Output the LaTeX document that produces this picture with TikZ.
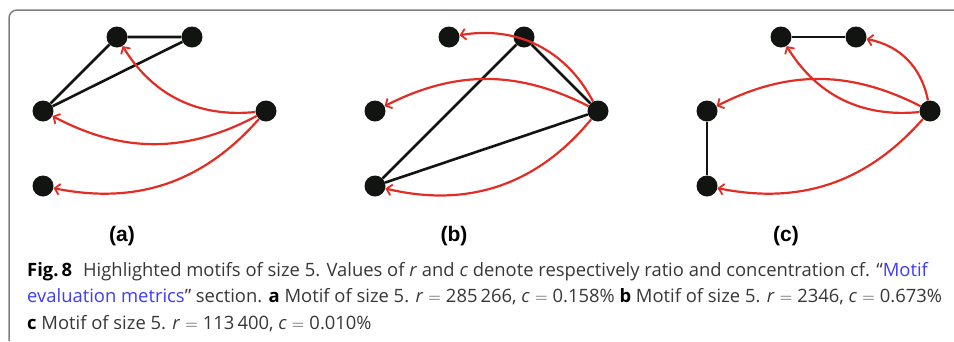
\documentclass[tikz,border=0pt]{standalone}
\usepackage{fontspec}
\setmainfont{Open Sans}
\newfontfamily\panelfont{Liberation Sans}
\usetikzlibrary{arrows.meta}
\definecolor{motifred}{RGB}{226,44,36}
\definecolor{vtxblack}{RGB}{18,20,18}
\definecolor{framegray}{RGB}{128,128,128}
\definecolor{captext}{RGB}{55,55,55}
\definecolor{linkblue}{RGB}{60,60,250}
\newcommand{\eqsign}{\;$=$\;}
\tikzset{
  vtx/.style={circle, fill=vtxblack, inner sep=0pt, minimum size=21pt},
  undir/.style={line width=2.6pt, vtxblack},
  motifarc/.style={line width=2.2pt, motifred,
    -{Straight Barb[length=5pt,width=11pt,line width=1.8pt]}},
  panellabel/.style={font=\panelfont\bfseries\fontsize{21}{21}\selectfont},
  capline/.style={anchor=base west, inner sep=0pt,
    font=\fontsize{18.4}{20}\selectfont, text=captext}
}
\begin{document}
\begin{tikzpicture}[x=1pt, y=1pt]
% Three 5-node motifs side by side, pixel-like units (y grows up, so
% rows sit at negative y). Every panel uses the same five vertex
% spots: tl, tr on top, ml, bl on the left, r on the right.
\useasboundingbox (0,0) rectangle (954,-341);
% Figure frame: only the top-left corner is visible
\draw[framegray, line width=1.5pt, rounded corners=8pt]
  (9,-341) |- (954,-10);
% Vertices for panels a, b, c
\foreach \p/\dx in {a/0, b/332, c/664} {
  \node[vtx] (\p tl) at (117+\dx, -37) {};
  \node[vtx] (\p tr) at (192+\dx, -37) {};
  \node[vtx] (\p ml) at (43+\dx, -111) {};
  \node[vtx] (\p r)  at (266+\dx, -111) {};
  \node[vtx] (\p bl) at (43+\dx, -186) {};
  \node[panellabel] (\p lab) at (122+\dx, -236) {(\p)};
}
% (a) triangle tl-tr-ml, three arcs out of r
\draw[undir] (atl) -- (atr) -- (aml) -- (atl);
\draw[motifarc] (ar) to[bend left=32] (atl);
\draw[motifarc] (ar) to[bend left=28] (aml);
\draw[motifarc] (ar) to[bend left=30] (abl);
% (b) triangle tr-r-bl, three arcs out of r
\draw[undir] (btr) -- (br) -- (bbl) -- (btr);
\draw[motifarc] (br) to[bend right=36] (btl);
\draw[motifarc] (br) to[bend right=27] (bml);
\draw[motifarc] (br) to[bend left=32] (bbl);
% (c) two separate edges, four arcs out of r
\draw[undir] (ctl) -- (ctr);
\draw[undir] (cml) -- (cbl);
\draw[motifarc] (cr) to[bend right=34] (ctr);
\draw[motifarc] (cr) to[bend left=32] (ctl);
\draw[motifarc] (cr) to[bend right=27] (cml);
\draw[motifarc] (cr) to[bend left=30] (cbl);
% Caption, three lines
\node[capline] (cap1) at (27,-276)
  {\textcolor{black}{\textbf{Fig.\,8}}\hspace{0.6em}Highlighted motifs of size 5. Values of \textit{r} and \textit{c} denote respectively ratio and concentration cf. “\textcolor{linkblue}{Motif}};
\node[capline] (cap2) at (27,-302.5)
  {\textcolor{linkblue}{evaluation metrics}” section. \textcolor{black}{\textbf{a}} Motif of size 5. \textit{r}\eqsign 285\,266, \textit{c}\eqsign 0.158\% \textcolor{black}{\textbf{b}} Motif of size 5. \textit{r}\eqsign 2346, \textit{c}\eqsign 0.673\%};
\node[capline] (cap3) at (27,-329)
  {\textcolor{black}{\textbf{c}} Motif of size 5. \textit{r}\eqsign 113\,400, \textit{c}\eqsign 0.010\%};
\end{tikzpicture}
\end{document}
